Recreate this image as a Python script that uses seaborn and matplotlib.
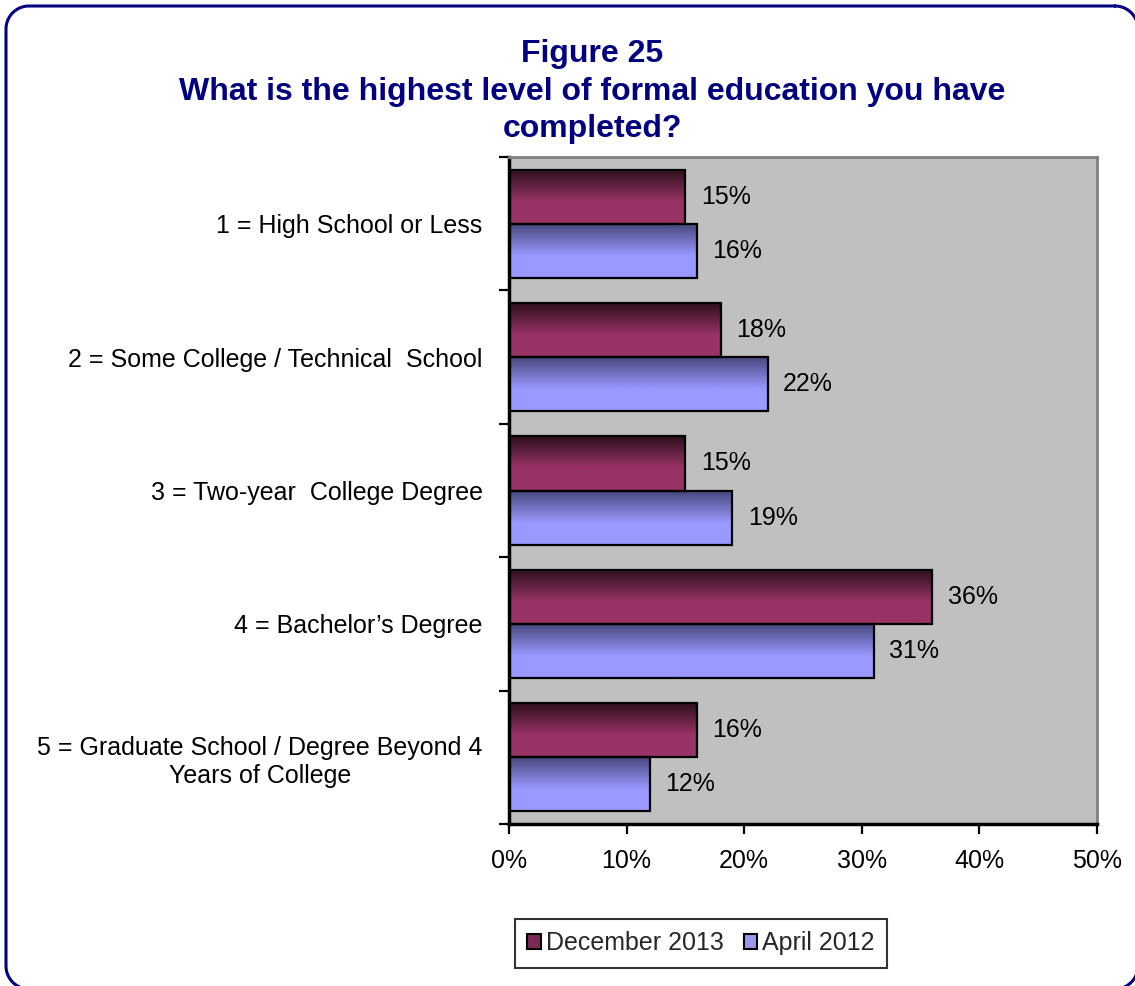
import numpy as np
import pandas as pd
import matplotlib
matplotlib.use("Agg")
import matplotlib.pyplot as plt
from matplotlib.patches import Patch
from matplotlib.lines import Line2D
from matplotlib.colors import to_rgb
from matplotlib.ticker import FixedLocator, FuncFormatter
import seaborn as sns

categories = [
    "1 = High School or Less",
    "2 = Some College / Technical  School",
    "3 = Two-year  College Degree",
    "4 = Bachelor\u2019s Degree",
    "5 = Graduate School / Degree Beyond 4\nYears of College",
]
series_names = ["December 2013", "April 2012"]
dec_2013 = [15, 18, 15, 36, 16]
apr_2012 = [16, 22, 19, 31, 12]
x_ticks = [0, 10, 20, 30, 40, 50]

df = pd.DataFrame({
    "Education": categories * 2,
    "Survey": [series_names[0]] * len(categories) + [series_names[1]] * len(categories),
    "Percent": dec_2013 + apr_2012,
})

# top (dark) and base colours of each series' vertical gradient
grad = {
    series_names[0]: ("#2a0e1c", "#993366"),
    series_names[1]: ("#45457a", "#9999ff"),
}
palette = {k: v[1] for k, v in grad.items()}

sns.set_theme(style="white")
plt.rcParams["font.family"] = ["Liberation Sans", "DejaVu Sans"]

FS = 18
W, H = 1135, 986

fig = plt.figure(figsize=(W / 100, H / 100), dpi=100)
ax = fig.add_axes([509 / W, 1 - 824 / H, (1097 - 509) / W, (824 - 157) / H])
ax.set_facecolor("#c0c0c0")

sns.barplot(data=df, y="Education", x="Percent", hue="Survey", palette=palette,
            orient="h", width=0.81, dodge=True, ax=ax, legend=False,
            edgecolor="black", linewidth=1.6)

# paint each bar with a vertical gradient clipped to its rectangle
def gradient_image(top, base, n=200):
    t = np.linspace(0, 1, n)
    f = np.clip(t / 0.6, 0, 1)[:, None]
    c0, c1 = np.array(to_rgb(top)), np.array(to_rgb(base))
    return (c0 * (1 - f) + c1 * f)[:, None, :]

for container, name in zip(ax.containers, series_names):
    top, base = grad[name]
    img = gradient_image(top, base)
    for bar in container:
        x0, y0 = bar.get_x(), bar.get_y()
        w, h = bar.get_width(), bar.get_height()
        im = ax.imshow(img, extent=[x0, x0 + w, y0 + h, y0], origin="upper",
                       aspect="auto", zorder=bar.get_zorder() - 0.1, interpolation="bilinear")
        im.set_clip_path(bar)
        bar.set_facecolor("none")
    ax.bar_label(container, labels=[f"{v:.0f}%" for v in container.datavalues],
                 padding=11, fontsize=FS, color="black")

n = len(categories)
ax.set_xlim(0, 50)
ax.set_ylim(n - 0.5, -0.5)
ax.set_xticks(x_ticks)
ax.xaxis.set_major_formatter(FuncFormatter(lambda v, p: f"{v:.0f}%"))
ax.set_xlabel("")
ax.set_ylabel("")

ax.set_yticks(range(n))
ax.set_yticklabels(categories, multialignment="center")
ax.yaxis.set_minor_locator(FixedLocator(np.arange(-0.5, n, 1.0)))
ax.tick_params(axis="y", which="major", length=0, pad=19, labelsize=FS, labelcolor="black")
ax.tick_params(axis="y", which="minor", left=True, length=7, width=1.6, color="black", direction="out")
ax.tick_params(axis="x", which="major", bottom=True, length=7, width=1.6, color="black",
               direction="out", pad=11, labelsize=FS, labelcolor="black")

for side in ("left", "bottom"):
    ax.spines[side].set_color("black")
    ax.spines[side].set_linewidth(2.5)
    ax.spines[side].set_visible(True)
for side in ("top", "right"):
    ax.spines[side].set_color("#808080")
    ax.spines[side].set_linewidth(2)
    ax.spines[side].set_visible(True)
ax.grid(False)

fig.text(592 / W, 1 - 39 / H,
         "Figure 25\nWhat is the highest level of formal education you have\ncompleted?",
         ha="center", va="top", fontsize=23, fontweight="bold", color="#000080",
         linespacing=1.33)

handles = [Patch(facecolor="#7a2a55", edgecolor="black", linewidth=1.5, label=series_names[0]),
           Patch(facecolor="#9999ee", edgecolor="black", linewidth=1.5, label=series_names[1])]
leg = fig.legend(handles=handles, loc="center", bbox_to_anchor=(701 / W, 1 - 943 / H),
                 ncol=2, fontsize=FS, frameon=True, fancybox=False, edgecolor="black",
                 handlelength=0.55, handleheight=0.55, handletextpad=0.2, columnspacing=0.8,
                 borderpad=0.5, borderaxespad=0)
leg.get_frame().set_linewidth(1.5)

# rounded outer frame (pixel units), running off the right and bottom edges
def rounded_rect(x0, y0, x1, y1, r, k=24):
    pts = []
    corners = [(x1 - r, y0 + r, -90, 0), (x1 - r, y1 - r, 0, 90),
               (x0 + r, y1 - r, 90, 180), (x0 + r, y0 + r, 180, 270)]
    for cx, cy, a0, a1 in corners:
        a = np.radians(np.linspace(a0, a1, k))
        pts.extend(zip(cx + r * np.cos(a), cy + r * np.sin(a)))
    pts.append(pts[0])
    return np.array(pts)

frame = rounded_rect(6, 6, 1138, 989, 23)
fig.add_artist(Line2D(frame[:, 0] / W, 1 - frame[:, 1] / H, transform=fig.transFigure,
                      color="#000080", linewidth=2.2, clip_on=False,
                      solid_joinstyle="round"))

fig.savefig("out.png", dpi=100)
